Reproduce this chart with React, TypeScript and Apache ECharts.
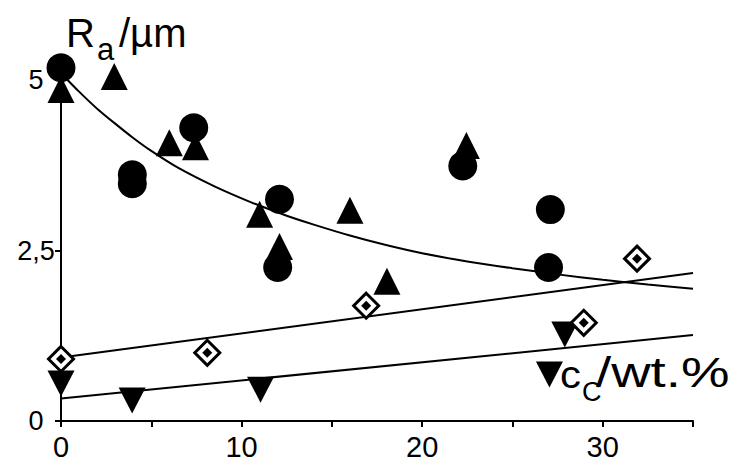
import React, { useEffect, useRef } from "react";
import * as echarts from "echarts";

// ---- data ----
const circlePoints: number[][] = [
  [0, 5.18], [3.95, 3.61], [3.95, 3.48], [7.35, 4.3], [12.1, 3.25],
  [12.0, 2.25], [22.25, 3.74], [27.1, 3.1], [27.0, 2.25],
];
const triangleUpPoints: number[][] = [
  [0, 4.86], [2.95, 5.05], [6.0, 4.08], [7.45, 4.02], [11.0, 3.03],
  [12.1, 2.56], [16.0, 3.09], [18.05, 2.05], [22.45, 4.04],
];
const triangleDownPoints: number[][] = [
  [0, 0.55], [3.94, 0.3], [11.05, 0.46], [27.05, 0.68], [27.9, 1.27],
];
const diamondPoints: number[][] = [
  [0, 0.91], [8.1, 1.0], [16.9, 1.69], [28.95, 1.44], [31.9, 2.38],
];
// fitted curve / lines
const decayCurve: number[][] = [
  [0, 5.1], [1, 4.83], [2, 4.58], [3, 4.36], [4, 4.15], [5, 3.96], [6.5, 3.71],
  [8.5, 3.44], [10.5, 3.21], [12.5, 3.01], [14, 2.88], [16, 2.72], [18, 2.58],
  [20, 2.46], [22.5, 2.34], [25, 2.24], [27.5, 2.15], [30, 2.07],
  [32.5, 2.0], [35, 1.94],
];
const diamondFit: number[][] = [[0, 0.93], [35, 2.17]];
const triangleDownFit: number[][] = [[0, 0.33], [35, 1.26]];

const xLabelValues = [0, 10, 20, 30];
const yTickLabels: Record<string, string> = { "0": "0", "2.5": "2,5", "5": "5" };

const FONT = '"Liberation Sans", Arial, Helvetica, sans-serif';
const DOWN_TRI = "path://M0,0L20,0L10,19Z";

export default function App() {
  const ref = useRef<HTMLDivElement>(null);
  useEffect(() => {
    if (!ref.current) return;
    const chart = echarts.init(ref.current, undefined, { renderer: "svg" });
    const black = "#000";
    const lineSeries = (data: number[][], smooth: number | boolean) => ({
      type: "line",
      data,
      smooth,
      showSymbol: false,
      symbol: "none",
      clip: false,
      z: 1,
      lineStyle: { color: black, width: 2 },
    });
    chart.setOption({
      animation: false,
      backgroundColor: "#fff",
      grid: { left: 61, right: 41, top: 80, bottom: 41, containLabel: false },
      xAxis: {
        type: "value",
        min: 0,
        max: 35,
        interval: 5,
        axisLine: { lineStyle: { color: black, width: 2 } },
        axisTick: { length: 6, lineStyle: { color: black, width: 2 } },
        splitLine: { show: false },
        axisLabel: {
          color: black,
          fontSize: 29,
          fontFamily: FONT,
          margin: 11,
          formatter: (v: number) => (xLabelValues.includes(v) ? String(v) : ""),
        },
      },
      yAxis: {
        type: "value",
        min: 0,
        max: 5,
        interval: 2.5,
        axisLine: { show: true, lineStyle: { color: black, width: 2 } },
        axisTick: { show: true, length: 6, lineStyle: { color: black, width: 2 } },
        splitLine: { show: false },
        axisLabel: {
          color: black,
          fontSize: 27,
          fontFamily: FONT,
          align: "center",
          margin: 25,
          formatter: (v: number) => yTickLabels[String(v)] ?? String(v),
        },
      },
      series: [
        lineSeries(decayCurve, 0.25),
        lineSeries(diamondFit, false),
        lineSeries(triangleDownFit, false),
        {
          type: "scatter",
          data: circlePoints,
          symbol: "circle",
          symbolSize: 29,
          clip: false,
          z: 3,
          itemStyle: { color: black, opacity: 1 },
        },
        {
          type: "scatter",
          data: triangleUpPoints,
          symbol: "triangle",
          symbolSize: 27,
          clip: false,
          z: 3,
          itemStyle: { color: black, opacity: 1 },
        },
        {
          type: "scatter",
          data: triangleDownPoints,
          symbol: DOWN_TRI,
          symbolSize: [27, 26],
          clip: false,
          z: 3,
          itemStyle: { color: black, opacity: 1 },
        },
        {
          type: "scatter",
          data: diamondPoints,
          symbol: "diamond",
          symbolSize: 25,
          clip: false,
          z: 4,
          itemStyle: { color: "#fff", borderColor: black, borderWidth: 3, opacity: 1 },
        },
        {
          type: "scatter",
          data: diamondPoints,
          symbol: "diamond",
          symbolSize: 10,
          clip: false,
          z: 5,
          itemStyle: { color: black, opacity: 1 },
        },
      ],
      graphic: [
        { type: "text", x: 66, y: 33, z: 10, style: { text: "R", fontSize: 40, fontFamily: FONT, fill: black, align: "left", verticalAlign: "middle" } },
        { type: "text", x: 97, y: 49, z: 10, style: { text: "a", fontSize: 31, fontFamily: FONT, fill: black, align: "left", verticalAlign: "middle" } },
        { type: "text", x: 119, y: 33, z: 10, style: { text: "/µm", fontSize: 40, fontFamily: FONT, fill: black, align: "left", verticalAlign: "middle" } },
        { type: "text", x: 560, y: 375, z: 10, scaleX: 1.1, style: { text: "c", fontSize: 38, fontFamily: FONT, fill: black, align: "left", verticalAlign: "middle" } },
        { type: "text", x: 582, y: 392, z: 10, style: { text: "C", fontSize: 27, fontFamily: FONT, fill: black, align: "left", verticalAlign: "middle" } },
        { type: "text", x: 596, y: 372, z: 10, scaleX: 1.3, style: { text: "/wt.%", fontSize: 42, fontFamily: FONT, fill: black, align: "left", verticalAlign: "middle" } },
      ],
    });
    return () => chart.dispose();
  }, []);
  return (
    <div
      ref={ref}
      style={{ position: "fixed", left: 0, top: 0, width: 734, height: 462, background: "#fff" }}
    />
  );
}
